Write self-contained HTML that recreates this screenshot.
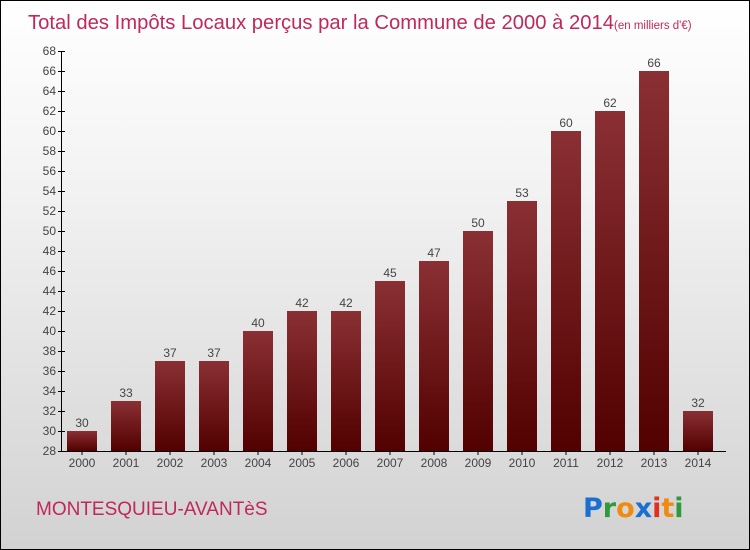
<!DOCTYPE html>
<html><head><meta charset="utf-8"><style>
body{margin:0}
#c{width:748px;height:548px;border:1px solid #000;background:linear-gradient(#fff,#f4f4f4 30%,#d2d2d2);position:relative;font-family:"Liberation Sans",sans-serif;overflow:hidden}
</style></head><body>
<div id="c">
<svg id="s" width="748" height="548">
<text x="27" y="28" font-size="20" textLength="586" lengthAdjust="spacingAndGlyphs" fill="#c0285a">Total des Impôts Locaux perçus par la Commune de 2000 à 2014</text>
<text x="613" y="28" font-size="11.5" fill="#c0285a">(en milliers d'€)</text>
<text x="35" y="514" font-size="19" fill="#c0285a">MONTESQUIEU-AVANTèS</text>
<g font-size="27" font-weight="bold" font-family="DejaVu Sans, sans-serif">
<text x="582" y="516"><tspan fill="#1a6fd0">P</tspan><tspan fill="#2e9a3a">r</tspan><tspan fill="#f08a10">o</tspan><tspan fill="#1a6fd0">x</tspan><tspan fill="#e03020">i</tspan><tspan fill="#f08a10">t</tspan><tspan fill="#2e9a3a">i</tspan></text>
</g>
<defs><linearGradient id="g" x1="0" y1="0" x2="0" y2="1"><stop offset="0" stop-color="#8a3034"/><stop offset="1" stop-color="#520000"/></linearGradient></defs>
<g id="bars"></g><g id="axes"></g>
</svg></div>
<script>
const years=["2000","2001","2002","2003","2004","2005","2006","2007","2008","2009","2010","2011","2012","2013","2014"];
const values=[30,33,37,37,40,42,42,45,47,50,53,60,62,66,32];
const yTicks=[28,30,32,34,36,38,40,42,44,46,48,50,52,54,56,58,60,62,64,66,68];
const NS="http://www.w3.org/2000/svg";
const y=v=>450-(v-28)*10, x=i=>81+i*44;
function mk(t,a,p){const e=document.createElementNS(NS,t);for(const k in a)e.setAttribute(k,a[k]);p.appendChild(e);return e;}
const B=document.getElementById('bars'),A=document.getElementById('axes');
values.forEach((v,i)=>{
 const r=mk('rect',{x:x(i)-15,y:y(v),width:30,height:450-y(v),fill:'url(#g)'},B);
 
 
 const t=mk('text',{x:x(i),y:y(v)-4,'text-anchor':'middle','font-size':12,fill:'#444'},B);t.textContent=v;
 
 
 const l=mk('text',{x:x(i),y:466,'text-anchor':'middle','font-size':12,fill:'#444'},A);l.textContent=years[i];
 
 
 mk('line',{x1:x(i),x2:x(i),y1:450,y2:454,stroke:'#000'},A);
});
mk('line',{x1:60.5,x2:60.5,y1:50,y2:450,stroke:'#000'},A);
mk('line',{x1:60,x2:725,y1:450.5,y2:450.5,stroke:'#000'},A);
yTicks.forEach(v=>{
 mk('line',{x1:57,x2:64,y1:y(v)+.5,y2:y(v)+.5,stroke:'#000'},A);
 const t=mk('text',{x:55,y:y(v)+4,'text-anchor':'end','font-size':12,fill:'#444'},A);t.textContent=v;
 
 
});
</script></body></html>
